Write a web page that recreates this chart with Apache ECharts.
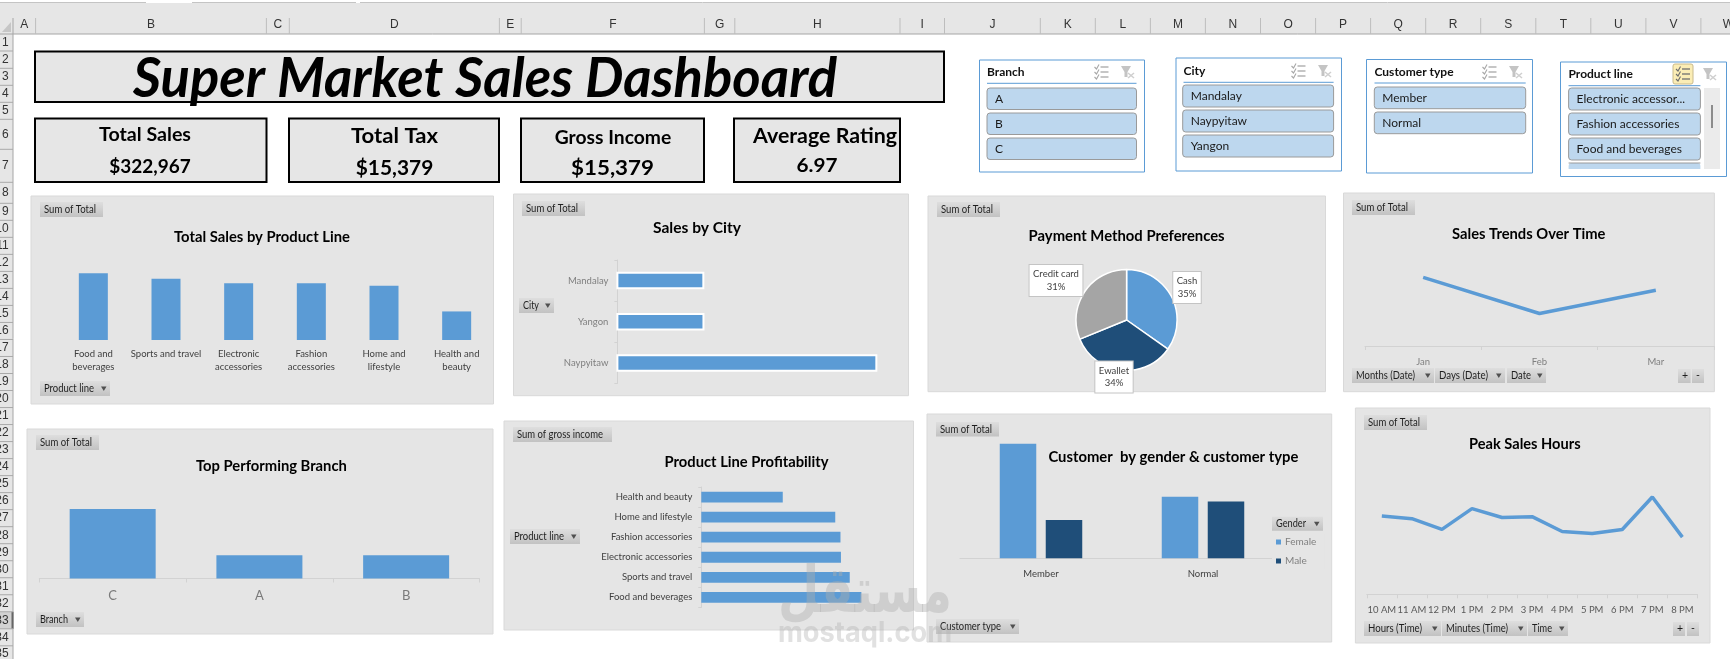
<!DOCTYPE html>
<html><head><meta charset="utf-8"><style>html,body{margin:0;padding:0;background:#fff;overflow:hidden}#c{width:1730px;height:659px}</style>
<script src="https://cdn.jsdelivr.net/npm/echarts@6/dist/echarts.min.js"></script></head>
<body><div id="c"></div>
<script>
// ---- data ----
const productLines = ['Food and\nbeverages','Sports and travel','Electronic\naccessories','Fashion\naccessories','Home and\nlifestyle','Health and\nbeauty'];
const productSales = [56145,55123,54338,54306,53862,49194];
const cities = ['Mandalay','Yangon','Naypyitaw'];
const citySales = [106197,106200,110569];
const payMethods = ['Cash','Ewallet','Credit card'];
const paySales = [112207,109993,100767];
const months = ['Jan','Feb','Mar'];
const monthSales = [116291,97219,109456];
const branches = ['C','A','B'];
const branchSales = [110569,106200,106198];
const profitLines = ['Food and beverages','Sports and travel','Electronic accessories','Fashion accessories','Home and lifestyle','Health and beauty'];
const profitValues = [2674,2625,2588,2586,2564,2343];
const custTypes = ['Member','Normal'];
const femaleSales = [88146,79735];
const maleSales = [76077,79007];
const hours = ['10 AM','11 AM','12 PM','1 PM','2 PM','3 PM','4 PM','5 PM','6 PM','7 PM','8 PM'];
const hourSales = [31422,30377,26065,34400,30828,31180,25226,24445,26030,39100,22969];
const kpis = [['Total Sales','$322,967'],['Total Tax','$15,379'],['Gross Income','$15,379'],['Average Rating','6.97']];
const slicerBranch = ['A','B','C'];
const slicerCity = ['Mandalay','Naypyitaw','Yangon'];
const slicerCust = ['Member','Normal'];
const slicerProd = ['Electronic accessor...','Fashion accessories','Food and beverages'];
const colLetters = ['A','B','C','D','E','F','G','H','I','J','K','L','M','N','O','P','Q','R','S','T','U','V','W'];

// ---- palette / helpers ----
const BLUE='#5B9BD5', NAVY='#1F4E79', GREY='#A5A5A5', PANEL='#E5E5E5', FONT='Lato';
const g=[];
const mc=document.createElement('canvas').getContext('2d');
function rect(x0,y0,x1,y1,fill,o={}){g.push({type:'rect',silent:true,z:o.z||0,shape:{x:x0,y:y0,width:x1-x0,height:y1-y0,r:o.r||0},
  style:{fill:fill,stroke:o.stroke||null,lineWidth:o.lw||0}});}
function line(x0,y0,x1,y1,c,lw){g.push({type:'line',silent:true,z:1,shape:{x1:x0,y1:y0,x2:x1,y2:y1},style:{stroke:c,lineWidth:lw||1}});}
function poly(pts,fill,z){g.push({type:'polygon',silent:true,z:z||1,shape:{points:pts},style:{fill:fill}});}
function text(x,y,s,o={}){
  const size=o.size||11, weight=o.bold?'bold':'normal', st=o.italic?'italic':'normal', fam=o.font||FONT;
  const e={type:'text',silent:true,z:o.z||3,x:x,y:y,style:{text:s,fontSize:size,fontWeight:weight,fontStyle:st,fontFamily:fam,
    fill:o.fill||'#000',align:o.align||'center',verticalAlign:'middle'}};
  if(o.w){mc.font=`${st} ${weight} ${size}px ${fam}`;e.scaleX=o.w/mc.measureText(s).width;}
  g.push(e);
}
const GRAD={type:'linear',x:0,y:0,x2:0,y2:1,colorStops:[{offset:0,color:'#DEDEDE'},{offset:1,color:'#C2C2C2'}]};
function btn(x0,y0,x1,y1,s,arrow,w){
  rect(x0,y0,x1,y1,GRAD,{z:1});
  text(x0+4,(y0+y1)/2,s,{size:10.5,align:'left',fill:'#1F1F1F',w:w});
  if(arrow) poly([[x1-9,(y0+y1)/2-2],[x1-3.5,(y0+y1)/2-2],[x1-6.2,(y0+y1)/2+2.5]],'#505050',3);
}
function panel(x0,y0,x1,y1){rect(x0,y0,x1,y1,PANEL,{stroke:'#D9D9D9',lw:1,z:0});}

// ---- sheet chrome ----
rect(0,3,1730,34,'#E6E6E6');
[[0,146],[192,356],[360,1730]].forEach(t=>{rect(t[0],0,t[1],2.5,'#fff');line(t[0],2.5,t[1],2.5,'#C4C4C4',1);});
line(0,34,1730,34,'#A6A6A6',1);
rect(0,34,13,659,'#E6E6E6');
line(13,18,13,659,'#A6A6A6',1);
poly([[11,22],[11,32],[2,32]],'#C6C6C6');
const colEdges=[13,35.6,266.4,289.3,499.4,521.2,704.4,734.8,900,944.5,1040.3,1095.3,1150.4,1205.4,1260.5,1315.6,1370.6,1425.7,1480.7,1535.8,1590.8,1645.9,1700.9,1756];
colLetters.forEach((c,i)=>{text((colEdges[i]+colEdges[i+1])/2,25,c,{size:12,font:'Liberation Sans',fill:'#333'});line(colEdges[i+1],18,colEdges[i+1],34,'#BDBDBD',1);});
const rowEdges=[34,51,68.3,85.3,102.3,119.3,149.3,182.3,203.3];
for(let k=1;k<=27;k++) rowEdges.push(203.3+17.02*k);
rect(0,rowEdges[32],13,rowEdges[33],'#D2D2D2');
line(12.5,rowEdges[32],12.5,rowEdges[33],'#666',2);
rowEdges.slice(0,35).forEach((y,i)=>{
  line(0,rowEdges[i+1],13,rowEdges[i+1],'#A9A9A9',1);
  text(8.7,Math.min((y+rowEdges[i+1])/2,654),String(i+1),{size:12,font:'Liberation Sans',fill:'#333',align:'right'});
});

// ---- title + KPI ----
rect(35,51.5,944,102,'#E6E6E6',{stroke:'#000',lw:2});
text(485,79,'Super Market Sales Dashboard',{size:56,bold:true,italic:true,w:704});
const kpiBox=[[35,118.5,266.5,182],[289,118.5,499,182],[521,118.5,704,182],[734,118.5,900,182]];
const kpiTxt=[[145,135,19,92,150,166.7,19,81.5],[394.5,136,21,87,394.5,168,21,77.5],[613,137.7,18.5,116.5,612.5,168,21,83],[825,136,21,144,817,166,19,41]];
kpis.forEach((k,i)=>{const b=kpiBox[i],t=kpiTxt[i];
  rect(b[0],b[1],b[2],b[3],'#E6E6E6',{stroke:'#000',lw:2});
  text(t[0],t[1],k[0],{size:t[2],bold:true,w:t[3]});
  text(t[4],t[5],k[1],{size:t[6],bold:true,w:t[7]});
});

// ---- slicers ----
function slicer(x0,y0,x1,y1,title,items,hy,ly,ix0,ix1,iy,ih,step,titleX){
  rect(x0,y0,x1,y1,'#fff',{stroke:BLUE,lw:1});
  text(titleX,hy,title,{size:12,bold:true,align:'left',fill:'#111'});
  line(titleX,ly,ix1,ly,BLUE,1);
  items.forEach((s,i)=>{
    rect(ix0,iy+i*step,ix1,iy+i*step+ih,'#BDD7EE',{r:3,stroke:'#9A9A9A',lw:1,z:1});
    text(ix0+8,iy+i*step+ih/2,s,{size:12,align:'left',fill:'#1A1A1A'});
  });
  const cx=x1-43, cy=hy;
  if(title!=='Product line') msIcon(cx,cy,'#A8A8A8'); else {
    rect(1673,64,1693,84,'#FBEDB5',{r:2,stroke:'#C9BA8C',lw:1,z:1});msIcon(1683,74,'#6E6E6E');
  }
  const fx=x1-16.5;
  poly([[fx-7,cy-6],[fx+3,cy-6],[fx-0.5,cy],[fx-0.5,cy+5],[fx-3.5,cy+5],[fx-3.5,cy]],'#C4C4C4',3);
  line(fx+0,cy+1,fx+6,cy+6,'#CFCFCF',1.5);line(fx+6,cy+1,fx+0,cy+6,'#CFCFCF',1.5);
}
function msIcon(cx,cy,c){
  [-5,0,5].forEach(d=>{line(cx-1,cy+d,cx+7,cy+d,c,1.3);
    g.push({type:'polyline',silent:true,z:3,shape:{points:[[cx-7,cy+d],[cx-5,cy+d+2],[cx-2.5,cy+d-2.5]]},style:{stroke:c,lineWidth:1.1,fill:null}});});
}
slicer(979.5,60,1144.5,172,'Branch',slicerBranch,72,83.3,987,1136.5,88,21.5,25,987);
slicer(1176,58,1341.5,171,'City',slicerCity,71,82.3,1182.7,1333.6,85,22,25,1183.5);
slicer(1366.5,59.5,1532.5,173,'Customer type',slicerCust,72,83,1374.3,1525.7,87,21.7,25,1374.5);
slicer(1560.5,62,1726.5,176.5,'Product line',slicerProd,74,85.7,1568.6,1700.4,88,22,25,1568.5);
rect(1568.6,163,1700.4,169,'#BDD7EE',{r:[3,3,0,0],z:1});
line(1568.6,163,1700.4,163,'#9A9A9A',1);
rect(1704,88,1720,169,'#EBEBEB',{z:1});
rect(1711,105,1713,128,'#8C8C8C',{z:2});

// ---- panels + pivot buttons ----
panel(31,196,493.5,404);  panel(513.5,194,908.5,395.7);
panel(928,196,1325.5,391.7); panel(1343.5,193,1714.4,391.7);
panel(27,429,493,634); panel(504,421,913.5,630);
panel(927,414,1331.7,642); panel(1355.4,408,1710,643);

btn(40,202,103,217,'Sum of Total',false,52);
btn(40,381,110,396,'Product line',true,50);
btn(522,201,585,216,'Sum of Total',false,52);
btn(519,298,554,313,'City',true,16);
btn(937,202,1000,217,'Sum of Total',false,52);
btn(1352,200,1415,215,'Sum of Total',false,52);
btn(1352,368,1434,383,'Months (Date)',true,59);
btn(1435,368,1505,383,'Days (Date)',true,49);
btn(1507,368,1546,383,'Date',true,20);
btn(1678,369,1690.6,383,'+',false);btn(1692,369,1704,383,'-',false);
btn(36,435,99,450,'Sum of Total',false,52);
btn(36,612,84,627,'Branch',true,28);
btn(513,427,612,442,'Sum of gross income',false,86);
btn(510,529,580,544,'Product line',true,50);
btn(936,422,999,436.5,'Sum of Total',false,52);
btn(936,619,1019,634,'Customer type',true,61);
btn(1364,415,1427,430,'Sum of Total',false,52);
btn(1364,621,1441,636,'Hours (Time)',true,54);
btn(1442,621,1527,636,'Minutes (Time)',true,62);
btn(1528,621,1568,636,'Time',true,20);
btn(1673,622,1685,636,'+',false);btn(1687,622,1699,636,'-',false);
btn(1272,516.7,1323,530.7,'Gender',true,30);

// ---- chart titles ----
text(262,237,'Total Sales by Product Line',{size:15,bold:true,w:176});
text(697,227.7,'Sales by City',{size:15,bold:true,w:88});
text(1126.6,236,'Payment Method Preferences',{size:15,bold:true,w:196});
text(1528.7,234.3,'Sales Trends Over Time',{size:15,bold:true,w:153.4});
text(271.4,466,'Top Performing Branch',{size:15,bold:true,w:151});
text(746.5,462,'Product Line Profitability',{size:15,bold:true,w:164});
text(1173.4,457,'Customer  by gender & customer type',{size:15,bold:true,w:250});
text(1524.8,444,'Peak Sales Hours',{size:15,bold:true,w:111.6});

// ---- watermark ----
text(865,595,'مستقل',{size:64,bold:true,font:'DejaVu Sans',fill:'rgba(175,175,175,0.42)',z:50,w:174});
text(865,634,'mostaql.com',{size:28,bold:true,font:'Inter',fill:'rgba(175,175,175,0.38)',z:50,w:174});

// ---- grids / axes / series ----
const AX='#D2D2D2';
const grids=[
 {left:57,top:252,width:436,height:88},
 {left:617.4,top:260,width:277,height:123.5},
 {left:1365,top:270.4,width:349,height:75.6},
 {left:39.3,top:494,width:440.2,height:84.5},
 {left:701.3,top:487,width:190,height:120.4},
 {left:960,top:432,width:324,height:126.3},
 {left:1366.8,top:469.8,width:330.6,height:124.5}
];
function catX(i,data,o={}){return {type:'category',gridIndex:i,data:data,boundaryGap:true,
  axisLine:{show:!!o.line,lineStyle:{color:AX}},axisTick:{show:!!o.tick,alignWithLabel:false,length:4,lineStyle:{color:AX}},
  axisLabel:{interval:0,color:o.color||'#595959',fontSize:o.size||9.5,fontFamily:FONT,margin:o.margin||8,lineHeight:13.3,verticalAlign:'top',hideOverlap:false}};}
function catY(i,data,inv,color){return {type:'category',gridIndex:i,data:data,inverse:inv,
  axisLine:{show:true,lineStyle:{color:AX}},axisTick:{show:true,length:3,lineStyle:{color:AX}},
  axisLabel:{interval:0,color:color,fontSize:9.5,fontFamily:FONT,margin:9}};}
function val(i,min,max){return {type:'value',gridIndex:i,min:min,max:max,show:false,splitLine:{show:false}};}
const option={animation:false,backgroundColor:'#fff',graphic:{elements:g},grid:grids,
 xAxis:[
  catX(0,productLines,{color:'#404040',margin:7}),
  val(1,104000,111000),
  catX(2,months,{line:true,tick:true,color:'#808080',margin:9}),
  catX(3,branches,{line:true,tick:true,color:'#7A7A7A',size:13,margin:11}),
  val(4,2000,2800),
  catX(5,custTypes,{line:true,color:'#404040',margin:9}),
  catX(6,hours,{line:true,tick:true,color:'#595959',margin:9})
 ],
 yAxis:[
  val(0,44000,60000),
  catY(1,cities,true,'#7F7F7F'),
  val(2,80000,120000),
  val(3,104000,112000),
  catY(4,profitLines,false,'#404040'),
  val(5,70000,90000),
  val(6,0,50000)
 ],
 legend:{show:true,orient:'vertical',left:1272,top:534,padding:[3,8,3,4],itemWidth:5,itemHeight:5,itemGap:9,icon:'rect',
  backgroundColor:PANEL,data:['Female','Male'],textStyle:{fontSize:10,fontFamily:FONT,color:'#808080',padding:[0,0,0,-1]}},
 series:[
  {type:'bar',xAxisIndex:0,yAxisIndex:0,data:productSales,barWidth:29,itemStyle:{color:BLUE}},
  {type:'bar',xAxisIndex:1,yAxisIndex:1,data:citySales,barWidth:17.5,itemStyle:{color:BLUE,borderColor:'#fff',borderWidth:2}},
  {type:'line',xAxisIndex:2,yAxisIndex:2,data:monthSales,symbol:'none',lineStyle:{color:BLUE,width:3.5}},
  {type:'bar',xAxisIndex:3,yAxisIndex:3,data:branchSales,barWidth:86,itemStyle:{color:BLUE}},
  {type:'bar',xAxisIndex:4,yAxisIndex:4,data:profitValues,barWidth:10.8,itemStyle:{color:BLUE}},
  {type:'bar',name:'Female',xAxisIndex:5,yAxisIndex:5,data:femaleSales,barWidth:36.5,barGap:'26%',itemStyle:{color:BLUE}},
  {type:'bar',name:'Male',xAxisIndex:5,yAxisIndex:5,data:maleSales,barWidth:36.5,barGap:'26%',itemStyle:{color:NAVY}},
  {type:'line',xAxisIndex:6,yAxisIndex:6,data:hourSales,symbol:'none',lineStyle:{color:BLUE,width:3.5}},
  {type:'pie',center:[1126.6,320],radius:[0,50.5],startAngle:90,clockwise:true,percentPrecision:0,
   data:payMethods.map((n,i)=>({name:n,value:paySales[i]})),
   color:[BLUE,NAVY,GREY],itemStyle:{borderColor:'#fff',borderWidth:1.5},
   label:{show:true,position:'outside',formatter:'{b}\n{d}%',fontSize:9.5,fontFamily:FONT,color:'#404040',lineHeight:12.5,
     backgroundColor:'#fff',borderColor:'#C4C4C4',borderWidth:1,padding:[3,3.5,3,3.5]},
   labelLine:{show:false},emphasis:{disabled:true},
   labelLayout:p=>{const pos={Cash:[1187,287.5],Ewallet:[1114,377],'Credit card':[1056,280.5]}[payMethods[p.dataIndex]];
     return {x:pos[0],y:pos[1],align:'center',verticalAlign:'middle',hideOverlap:false};}}
 ]};
const chart=echarts.init(document.getElementById('c'),null,{renderer:'canvas',width:1730,height:659});
chart.setOption(option);
</script></body></html>
